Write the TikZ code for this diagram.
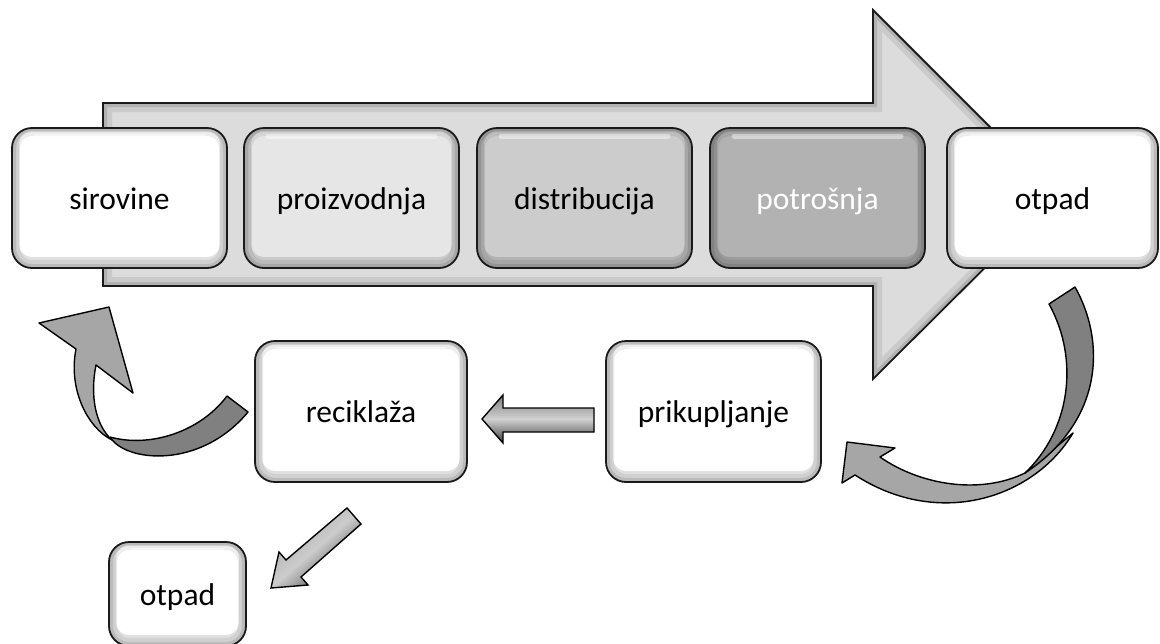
\documentclass[tikz,border=0pt]{standalone}
\usepackage{fontspec}
\setmainfont{Carlito}
\definecolor{arrowgray}{HTML}{DCDCDC}
\definecolor{boxA}{HTML}{E6E6E6}
\definecolor{boxB}{HTML}{CCCCCC}
\definecolor{boxC}{HTML}{B2B2B2}
\definecolor{ribdark}{HTML}{808080}
\definecolor{riblight}{HTML}{A6A6A6}
\definecolor{edge}{HTML}{1A1A1A}
\begin{document}
\begin{tikzpicture}[x=1pt,y=-1pt,
  bx/.style={draw=edge, line width=1.8pt, rounded corners=20pt,
    minimum width=215pt, minimum height=140pt, inner sep=0pt,
    font=\fontsize{31.5}{36}\selectfont, text height=28pt, text depth=6pt,
    path picture={
      \draw[line width=16pt, black, opacity=0.07, rounded corners=20pt]
        (path picture bounding box.south west) rectangle (path picture bounding box.north east);
      \draw[line width=8pt, black, opacity=0.10, rounded corners=20pt]
        (path picture bounding box.south west) rectangle (path picture bounding box.north east);
      \draw[line width=14pt, black, opacity=0.12, rounded corners=20pt]
        ([yshift=4pt]path picture bounding box.south west) rectangle ([yshift=4pt]path picture bounding box.north east);
      \draw[white, line width=5pt, opacity=0.45, line cap=round]
        ([xshift=24pt,yshift=-8pt]path picture bounding box.north west) -- ([xshift=-24pt,yshift=-8pt]path picture bounding box.north east);
    }},
  rib/.style={draw=black, line width=1.4pt, line join=round},
  metal/.style={draw=black, line width=1.4pt, line join=miter}
]
\useasboundingbox (0,0) rectangle (1160,643);
\clip (0,0) rectangle (1160,643);
\fill[white] (0,0) rectangle (1160,643);

% big arrow
\fill[arrowgray] (103,103) -- (873,103) -- (873,10) -- (1058,195) -- (873,379) -- (873,286) -- (103,286) -- cycle;
\begin{scope}
  \clip (103,103) -- (873,103) -- (873,10) -- (1058,195) -- (873,379) -- (873,286) -- (103,286) -- cycle;
  \draw[line width=18pt, black, opacity=0.08, line join=miter] (103,103) -- (873,103) -- (873,10) -- (1058,195) -- (873,379) -- (873,286) -- (103,286) -- cycle;
  \draw[line width=8pt, black, opacity=0.12, line join=miter] (103,103) -- (873,103) -- (873,10) -- (1058,195) -- (873,379) -- (873,286) -- (103,286) -- cycle;
\end{scope}
\draw[edge, line width=1.8pt, line join=miter] (103,103) -- (873,103) -- (873,10) -- (1058,195) -- (873,379) -- (873,286) -- (103,286) -- cycle;

% top row boxes
\node[bx, fill=white] (sir) at (119.5,198) {sirovine};
\node[bx, fill=boxA] (pro) at (351.5,198) {proizvodnja};
\node[bx, fill=boxB] (dis) at (584.5,198) {distribucija};
\node[bx, fill=boxC, text=white] (pot) at (817.5,198) {potrošnja};
\node[bx, fill=white, minimum width=211pt] (otp) at (1052.5,198) {otpad};

% second row
\node[bx, fill=white, minimum width=212pt, minimum height=141pt] (rec) at (361,411.5) {reciklaža};
\node[bx, fill=white, minimum width=215pt, minimum height=141pt] (pri) at (713.5,411.5) {prikupljanje};
\node[bx, fill=white, minimum width=137pt, minimum height=104pt] (otp2) at (177.5,594) {otpad};

% left curved arrow (reciklaza -> sirovine)
\fill[ribdark] (110,437) .. controls (125,462) and (200,470) .. (248,412)
  -- (227,396) .. controls (200,432) and (150,448) .. (110,437) -- cycle;
\draw[rib] (110,437) .. controls (125,462) and (200,470) .. (248,412)
  -- (227,396) .. controls (200,432) and (150,448) .. (110,437);
\draw[rib, fill=riblight] (76,349) -- (39,323) -- (109,307) -- (133,393) -- (96,365)
  .. controls (90,395) and (95,425) .. (112,440)
  .. controls (88,428) and (68,390) .. (76,349) -- cycle;

% right curved arrow (otpad -> prikupljanje)
\draw[rib, fill=riblight] (1073,433) .. controls (1035,497) and (940,530) .. (855,475)
  -- (842,483) -- (847,442) -- (895,448) -- (880,457)
  .. controls (920,485) and (980,495) .. (1025,473) -- cycle;
\draw[rib, fill=ribdark] (1049,304) -- (1075,287) .. controls (1105,340) and (1105,420) .. (1025,473)
  .. controls (1070,430) and (1080,360) .. (1049,304) -- cycle;

% small left arrow (prikupljanje -> reciklaza)
\shade[top color=black!50, bottom color=black!75, middle color=black!18]
  (482,419) -- (503,395) -- (503,408) -- (594,408) -- (594,432) -- (503,432) -- (503,443) -- cycle;
\draw[metal] (482,419) -- (503,395) -- (503,408) -- (594,408) -- (594,432) -- (503,432) -- (503,443) -- cycle;

% diagonal arrow (reciklaza -> otpad)
\shade[top color=black!35, bottom color=black!75, middle color=black!20, shading angle=41]
  (271,588) -- (279,552) -- (286,560) -- (347,508) -- (361,524) -- (301,577) -- (308,585) -- cycle;
\draw[metal] (271,588) -- (279,552) -- (286,560) -- (347,508) -- (361,524) -- (301,577) -- (308,585) -- cycle;
\end{tikzpicture}
\end{document}
